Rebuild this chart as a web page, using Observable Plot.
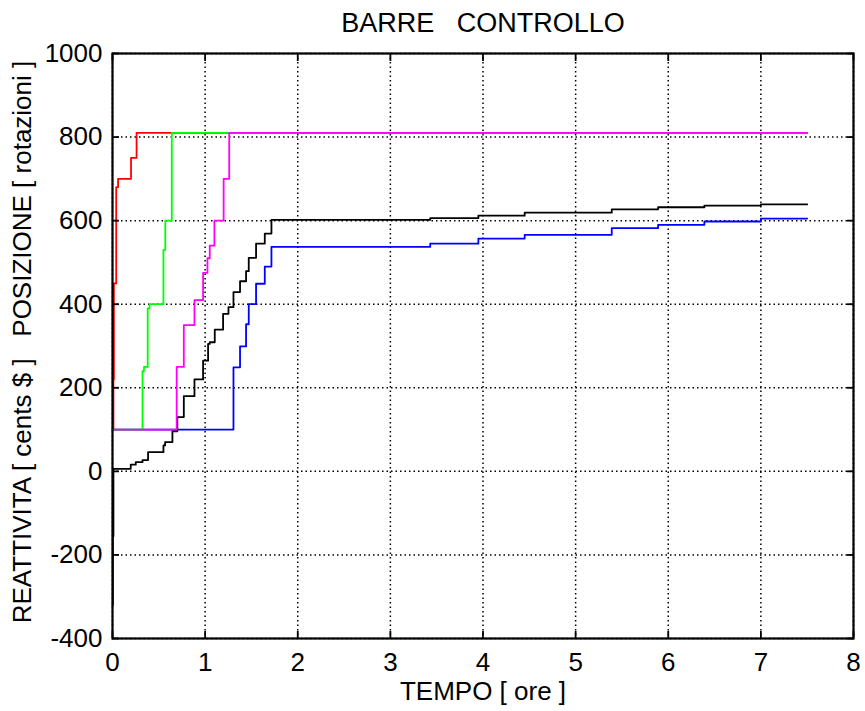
<!DOCTYPE html>
<html>
<head>
<meta charset="utf-8">
<script src="https://cdn.jsdelivr.net/npm/d3@7"></script>
<script src="https://cdn.jsdelivr.net/npm/@observablehq/plot@0.6"></script>
<style>
  html, body { margin: 0; padding: 0; background: #fff; }
  #chart text { white-space: pre; }
</style>
</head>
<body>
<div id="chart"></div>
<script>
// ---- Data ----
const TITLE = "BARRE   CONTROLLO";
const X_LABEL = "TEMPO [ ore ]";
const Y_LABEL = "REATTIVITA [ cents $ ]   POSIZIONE [ rotazioni ]";
const X_TICKS = [0, 1, 2, 3, 4, 5, 6, 7, 8];
const Y_TICKS = [-400, -200, 0, 200, 400, 600, 800, 1000];

const BLUE_T = [0, 1.306, 1.377, 1.442, 1.471, 1.55, 1.644, 1.716, 3.43, 3.95, 4.45, 5.39, 5.89, 6.39, 7.0, 7.5];
const BLUE_V = [100, 249, 299, 352, 400, 449, 490, 537, 545, 557, 566, 582, 590, 598, 605, 605];

const BLACK_T = [0, 0.004, 0.01, 0.197, 0.251, 0.324, 0.384, 0.55, 0.568, 0.647, 0.70, 0.77, 0.885, 0.978, 1.032, 1.05, 1.104, 1.194, 1.252, 1.306, 1.377, 1.442, 1.471, 1.55, 1.644, 1.716, 3.43, 3.95, 4.45, 5.39, 5.89, 6.39, 7.0, 7.5];
const BLACK_V = [-320, -155, 6, 16, 22, 27, 46, 62, 70, 96, 130, 180, 220, 265, 305, 309, 339, 377, 393, 429, 455, 479, 511, 545, 569, 602, 606, 612, 619, 627, 632, 636, 639, 639];

const RED_T = [0, 0.01, 0.015, 0.04, 0.06, 0.2, 0.26, 7.5];
const RED_V = [100, 220, 450, 680, 700, 750, 810, 810];

const GREEN_T = [0, 0.324, 0.34, 0.38, 0.40, 0.55, 0.57, 0.64, 7.5];
const GREEN_V = [100, 240, 250, 390, 400, 530, 600, 810, 810];

const MAGENTA_T = [0, 0.693, 0.77, 0.885, 0.978, 1.025, 1.05, 1.10, 1.20, 1.26, 7.5];
const MAGENTA_V = [100, 250, 350, 410, 475, 510, 540, 600, 700, 810, 810];

const SERIES = [
  {name: "blue", color: "#0000ff", t: BLUE_T, v: BLUE_V},
  {name: "black", color: "#000000", t: BLACK_T, v: BLACK_V},
  {name: "red", color: "#ff0000", t: RED_T, v: RED_V},
  {name: "green", color: "#00ff00", t: GREEN_T, v: GREEN_V},
  {name: "magenta", color: "#ff00ff", t: MAGENTA_T, v: MAGENTA_V}
];

const toRows = (s) => s.t.map((t, i) => ({t, v: s.v[i]}));

const lineMarks = SERIES.map(s =>
  Plot.line(toRows(s), {x: "t", y: "v", stroke: s.color, strokeWidth: 1.8, curve: "step-after"})
);

const plainFormat = (d) => String(d);

const chart = Plot.plot({
  width: 865,
  height: 711,
  marginLeft: 112,
  marginRight: 12,
  marginTop: 53,
  marginBottom: 73,
  style: {fontFamily: "'Liberation Sans', Arial, Helvetica, sans-serif", fontSize: "26px", color: "#000", background: "#fff"},
  x: {domain: [0, 8]},
  y: {domain: [-400, 1000]},
  marks: [
    Plot.gridX(X_TICKS, {stroke: "#000", strokeOpacity: 1, strokeWidth: 1.5, strokeDasharray: "1.5,3"}),
    Plot.gridY(Y_TICKS, {stroke: "#000", strokeOpacity: 1, strokeWidth: 1.5, strokeDasharray: "1.5,3"}),
    ...lineMarks,
    Plot.frame({stroke: "#000", strokeWidth: 2.2}),
    // inward ticks on all sides
    Plot.axisX(X_TICKS, {anchor: "bottom", tickSize: 7, dy: -7, tickFormat: () => "", label: null, strokeWidth: 1.8}),
    Plot.axisX(X_TICKS, {anchor: "top", tickSize: 7, dy: 7, tickFormat: () => "", label: null, strokeWidth: 1.8}),
    Plot.axisY(Y_TICKS, {anchor: "left", tickSize: 7, dx: 7, tickFormat: () => "", label: null, strokeWidth: 1.8}),
    Plot.axisY(Y_TICKS, {anchor: "right", tickSize: 7, dx: -7, tickFormat: () => "", label: null, strokeWidth: 1.8}),
    // tick labels
    Plot.axisX(X_TICKS, {anchor: "bottom", tickSize: 0, tickPadding: 14, label: null, fontSize: 26, tickFormat: plainFormat}),
    Plot.axisY(Y_TICKS, {anchor: "left", tickSize: 0, tickPadding: 10, label: null, fontSize: 26, tickFormat: plainFormat}),
    // title and axis labels
    Plot.text([TITLE], {frameAnchor: "top", textAnchor: "middle", lineAnchor: "middle", dy: -30.5, fontSize: 27, fill: "#000"}),
    Plot.text([X_LABEL], {frameAnchor: "bottom", textAnchor: "middle", lineAnchor: "middle", dy: 53, fontSize: 26, fill: "#000"}),
    Plot.text([Y_LABEL], {frameAnchor: "left", textAnchor: "middle", lineAnchor: "middle", rotate: -90, dx: -90, dy: -4, fontSize: 26, fill: "#000"})
  ]
});

document.getElementById("chart").appendChild(chart);
</script>
</body>
</html>
